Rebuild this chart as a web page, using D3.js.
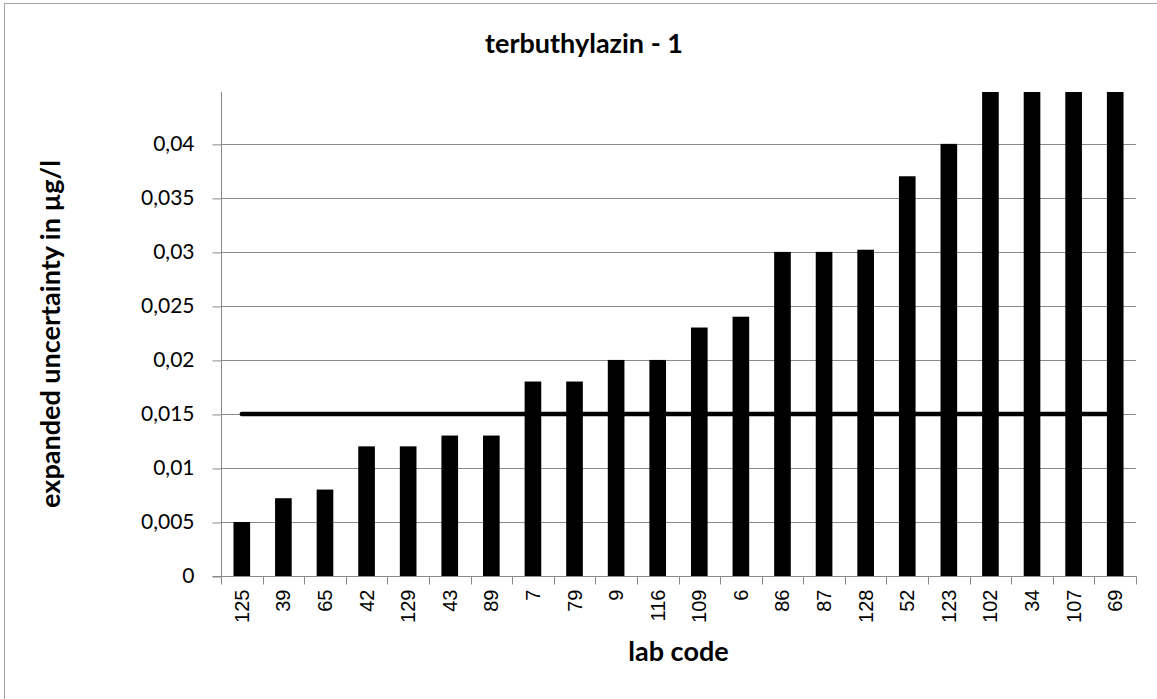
<!DOCTYPE html>
<html>
<head>
<meta charset="utf-8">
<script src="https://cdn.jsdelivr.net/npm/d3@7"></script>
<style>
  html, body { margin: 0; padding: 0; background: #fff; }
  svg { display: block; }
</style>
</head>
<body>
<svg id="chart" width="1157" height="699"></svg>
<script>
// ---- data ----
const labCodes = ["125","39","65","42","129","43","89","7","79","9","116","109","6","86","87","128","52","123","102","34","107","69"];
const uncertainty = [0.005,0.0072,0.008,0.012,0.012,0.013,0.013,0.018,0.018,0.02,0.02,0.023,0.024,0.03,0.03,0.0302,0.037,0.04,0.05,0.05,0.06,0.08];
const referenceValue = 0.015;
const yTicks = [0,0.005,0.01,0.015,0.02,0.025,0.03,0.035,0.04];
const yMax = 0.0448;
const titleText = "terbuthylazin - 1";
const xTitle = "lab code";
const yTitle = "expanded uncertainty in µg/l";

// ---- layout ----
const svg = d3.select("#chart");
const plot = { left: 221, right: 1136, top: 92, bottom: 576 };
const gridColor = "#8a8a8a";
const boldFont = "Lato, 'Open Sans', sans-serif";

// outer border
svg.append("rect")
  .attr("x", 4.5).attr("y", 3.5)
  .attr("width", 1170).attr("height", 710)
  .attr("fill", "#fff").attr("stroke", "#a6a6a6").attr("stroke-width", 1);

const xb = d3.scaleBand().domain(labCodes).range([plot.left, plot.right]);
const y = d3.scaleLinear().domain([0, yMax]).range([plot.bottom, plot.top]);

// gridlines
svg.append("g").selectAll("line").data(yTicks.filter(d => d > 0)).join("line")
  .attr("x1", plot.left).attr("x2", plot.right)
  .attr("y1", d => Math.round(y(d)) + 0.5).attr("y2", d => Math.round(y(d)) + 0.5)
  .attr("stroke", gridColor).attr("stroke-width", 1);

// clip for bars
svg.append("clipPath").attr("id", "clip").append("rect")
  .attr("x", plot.left).attr("y", plot.top)
  .attr("width", plot.right - plot.left).attr("height", plot.bottom - plot.top);

// bars
svg.append("g").attr("clip-path", "url(#clip)").selectAll("rect")
  .data(labCodes.map((c, i) => ({ c, v: uncertainty[i] }))).join("rect")
  .attr("x", d => xb(d.c) + xb.bandwidth() * 0.3)
  .attr("width", xb.bandwidth() * 0.4)
  .attr("y", d => y(d.v))
  .attr("height", d => plot.bottom - y(d.v))
  .attr("fill", "#000");

// reference line
const line = d3.line().x(d => xb(d) + xb.bandwidth() / 2).y(() => y(referenceValue));
svg.append("path")
  .datum([labCodes[0], labCodes[labCodes.length - 1]])
  .attr("d", line)
  .attr("fill", "none").attr("stroke", "#000").attr("stroke-width", 4.5)
  .attr("stroke-linecap", "round");

// y axis
const yAxis = d3.axisLeft(y).tickValues(yTicks).tickSize(9).tickPadding(18)
  .tickFormat(d => d === 0 ? "0" : d3.format(".3~f")(d).replace(".", ","));
const gy = svg.append("g").attr("transform", `translate(${plot.left + 0.5},0)`).call(yAxis);
gy.select(".domain").attr("stroke", gridColor).attr("d", `M-9,${plot.bottom + 0.5}H0V${plot.top}`);
gy.selectAll(".tick line").attr("stroke", gridColor).attr("transform", "translate(0,0.5)");
gy.selectAll(".tick text").attr("font-family", "Lato, 'Open Sans', sans-serif").attr("font-size", 21).attr("fill", "#000");

// x axis
const gx = svg.append("g").attr("transform", `translate(0,${plot.bottom + 0.5})`);
gx.append("line").attr("x1", plot.left).attr("x2", plot.right + 0.5).attr("y1", 0).attr("y2", 0).attr("stroke", gridColor);
const bounds = labCodes.map(c => xb(c)).concat([plot.right]);
gx.selectAll("line.tk").data(bounds).join("line").attr("class", "tk")
  .attr("x1", d => Math.round(d) + 0.5).attr("x2", d => Math.round(d) + 0.5)
  .attr("y1", 0).attr("y2", 8).attr("stroke", gridColor);
gx.selectAll("text").data(labCodes).join("text")
  .attr("transform", d => `translate(${xb(d) + xb.bandwidth() / 2 + 7},${13}) rotate(-90)`)
  .attr("text-anchor", "end")
  .attr("font-family", "'Liberation Sans', Arial, sans-serif").attr("font-size", 20)
  .attr("fill", "#000")
  .text(d => d);

// titles
svg.append("text").attr("x", 584).attr("y", 53).attr("text-anchor", "middle")
  .attr("font-family", boldFont).attr("font-weight", "bold").attr("font-size", 27)
  .text(titleText);
svg.append("text").attr("x", (plot.left + plot.right) / 2).attr("y", 661).attr("text-anchor", "middle")
  .attr("font-family", boldFont).attr("font-weight", "bold").attr("font-size", 27)
  .text(xTitle);
svg.append("text").attr("transform", `translate(60,${(plot.top + plot.bottom) / 2}) rotate(-90)`)
  .attr("text-anchor", "middle")
  .attr("font-family", boldFont).attr("font-weight", "bold").attr("font-size", 27)
  .text(yTitle);
</script>
</body>
</html>
